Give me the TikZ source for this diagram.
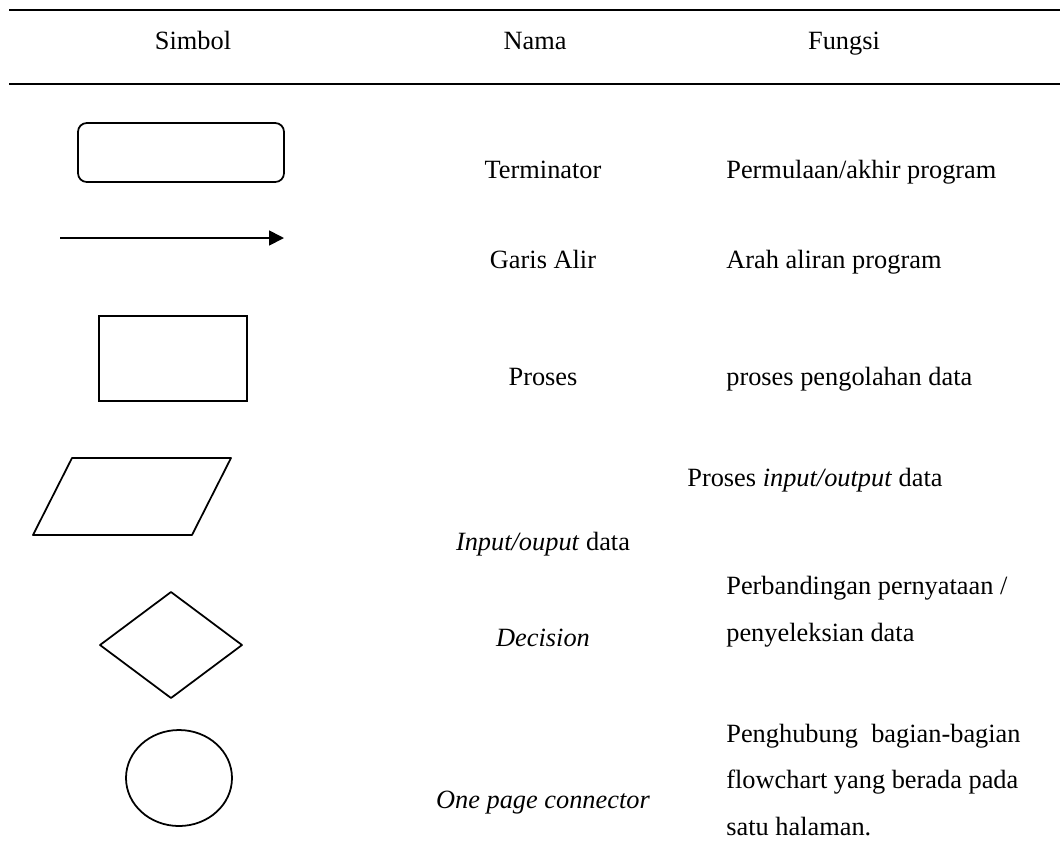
\documentclass[tikz,border=0pt]{standalone}
\usepackage{fontspec}
\setmainfont{Liberation Serif}
\usepackage{tikz}
\usetikzlibrary{arrows.meta,positioning,shapes.geometric}

\tikzset{
  teks/.style={font=\fontsize{15}{26.2}\selectfont,inner sep=0pt,anchor=base},
  fungsi/.style={teks,anchor=base west,align=left},
  garis/.style={line width=1.2pt},
  simbol/.style={draw,line width=1pt}
}

\begin{document}
\begin{tikzpicture}[x=0.02cm,y=-0.02cm]
\useasboundingbox (0,0) rectangle (1060,853);
% garis tabel
\coordinate (atasA) at (9,10);
\coordinate (atasB) at (1060,10);
\coordinate (bawahA) at (9,84);
\coordinate (bawahB) at (1060,84);
\draw[garis] (atasA) -- (atasB);
\draw[garis] (bawahA) -- (bawahB);
\node[teks] (hSimbol) at (193,49) {Simbol};
\node[teks] (hNama) at (535,49) {Nama};
\node[teks] (hFungsi) at (844,49) {Fungsi};
% simbol-simbol
\draw[simbol,rounded corners=5pt] (78,123) rectangle (284,182);
\coordinate (alirA) at (60,238);
\coordinate (alirB) at (284,238);
\draw[line width=1pt,-{Triangle[length=8.5pt,width=8.5pt]}] (alirA) -- (alirB);
\draw[simbol] (99,316) rectangle (247,401);
\draw[simbol,line join=round] (72,458) -- (231,458) -- (192,535) -- (33,535) -- cycle;
\draw[simbol,line join=round] (171,592) -- (242,645) -- (171,698) -- (100,645) -- cycle;
\draw[simbol] (179,778) ellipse [x radius=53,y radius=48];
% nama
\node[teks] (nTerm) at (543,178) {Terminator};
\node[teks] (nAlir) at (543,268) {Garis Alir};
\node[teks] (nProses) at (543,385) {Proses};
\node[teks] (nIO) at (543,550) {\textit{Input/ouput} data};
\node[teks] (nDec) at (543,646) {\textit{Decision}};
\node[teks] (nCon) at (543,808) {\textit{One page connector}};
% fungsi (base = baris terakhir)
\node[fungsi] (fTerm) at (726,178) {Permulaan/akhir program};
\node[fungsi] (fAlir) at (726,268) {Arah aliran program};
\node[fungsi] (fProses) at (726,385) {proses pengolahan data};
\node[fungsi] (fIO) at (687,486) {Proses \textit{input/output} data};
\node[fungsi] (fDec) at (726,641) {Perbandingan pernyataan /\\penyeleksian data};
\node[fungsi] (fCon) at (726,835) {Penghubung\hspace{0.5em}bagian-bagian\\flowchart yang berada pada\\satu halaman.};
\end{tikzpicture}
\end{document}
